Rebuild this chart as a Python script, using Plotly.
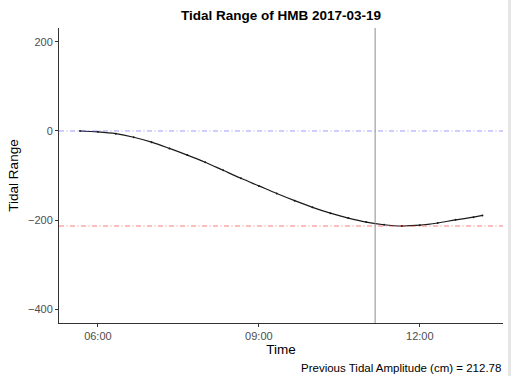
import plotly.graph_objects as go

# Water level relative to the morning high water (cm), 20-minute readings
times = ["05:40", "06:00", "06:20", "06:40", "07:00", "07:20", "07:40", "08:00",
         "08:20", "08:40", "09:00", "09:20", "09:40", "10:00", "10:20", "10:40",
         "11:00", "11:20", "11:40", "12:00", "12:20", "12:40", "13:00", "13:10"]
tidal_range = [0, -2, -6, -14, -25, -39, -54, -70,
               -88, -106, -123, -140, -156, -171, -184, -195,
               -204, -210, -212.78, -211, -206, -199, -193, -189]

day = "2017-03-19"
high_ref = 0
low_ref = -212.78
now_time = "11:10"
amplitude = 212.78

x_vals = [f"{day} {t}:00" for t in times]

fig = go.Figure()
fig.add_trace(go.Scatter(
    x=x_vals, y=tidal_range, mode="lines+markers",
    line=dict(color="#1a1a1a", width=1.2, shape="spline"),
    marker=dict(color="#1a1a1a", size=2),
    showlegend=False, hoverinfo="skip",
))

font = "Liberation Sans, Arial, sans-serif"
dotdash = "5px,2.5px,1px,2.5px"

# reference levels and current time
fig.add_hline(y=high_ref, line=dict(color="rgba(40,40,255,0.45)", width=1, dash=dotdash))
fig.add_hline(y=low_ref, line=dict(color="rgba(255,20,20,0.55)", width=1, dash=dotdash))
fig.add_vline(x=f"{day} {now_time}:00", line=dict(color="#8c8c8c", width=1))

# faint frame edge at the right
fig.add_shape(type="line", xref="paper", yref="paper", x0=1.0145, x1=1.0145,
              y0=-0.25, y1=1.25, line=dict(color="#e6e6e6", width=3))

fig.update_layout(
    width=514, height=376,
    margin=dict(l=59, r=11, t=28, b=53),
    plot_bgcolor="white", paper_bgcolor="white",
    font=dict(family=font, color="#1a1a1a", size=11),
    title=dict(text="<b>Tidal Range of HMB 2017-03-19</b>", x=(59 + 503) / 2 / 514,
               xanchor="center", y=1 - 15 / 376, yanchor="middle",
               font=dict(size=13.5, color="black", family=font)),
    annotations=[dict(text=f"Previous Tidal Amplitude (cm) = {amplitude}",
                      xref="paper", yref="paper", x=1, y=-45 / 295,
                      xanchor="right", yanchor="middle", showarrow=False,
                      font=dict(size=11.5, color="black", family=font))],
)

fig.update_xaxes(
    type="date",
    range=[f"{day} 05:16:30", f"{day} 13:33:00"],
    tickvals=[f"{day} 06:00:00", f"{day} 09:00:00", f"{day} 12:00:00"],
    ticktext=["06:00", "09:00", "12:00"],
    showgrid=False, zeroline=False,
    showline=True, linecolor="#333333", linewidth=1,
    ticks="outside", ticklen=3, tickcolor="#333333",
    tickfont=dict(size=11, color="#4d4d4d"),
    title=dict(text="Time", standoff=3, font=dict(size=13.5, color="black")),
)
fig.update_yaxes(
    range=[-430, 230.6],
    tickvals=[-400, -200, 0, 200],
    showgrid=False, zeroline=False,
    showline=True, linecolor="#333333", linewidth=1,
    ticks="outside", ticklen=3, tickcolor="#333333",
    tickfont=dict(size=11, color="#4d4d4d"),
    title=dict(text="Tidal Range", standoff=6, font=dict(size=13.5, color="black")),
)

fig.write_html("out.html")
